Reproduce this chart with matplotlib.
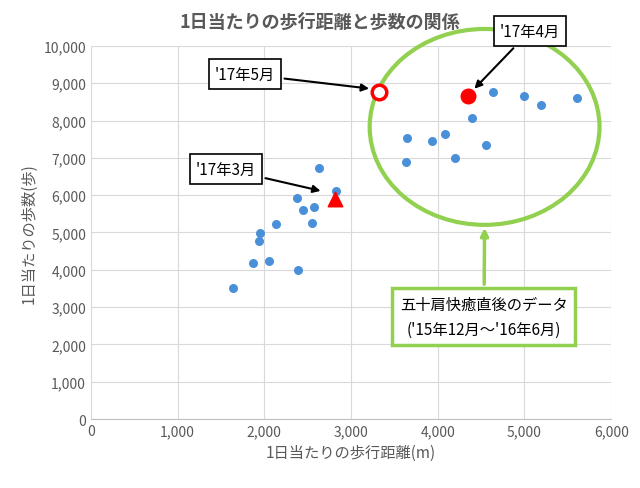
import matplotlib.pyplot as plt
from matplotlib.patches import Ellipse
from matplotlib.ticker import FuncFormatter

plt.rcParams['font.family'] = ['Noto Sans CJK JP', 'DejaVu Sans']

# 過去データ (m, 歩)
dist = [1640, 1870, 2050, 1940, 1950, 2130, 2390, 2380, 2450, 2570, 2550, 2630, 2830,
        3650, 3630, 3930, 4080, 4200, 4560, 4390, 4640, 5000, 5190, 5600]
steps = [3510, 4180, 4240, 4770, 4990, 5230, 3990, 5920, 5600, 5680, 5250, 6730, 6110,
         7530, 6890, 7450, 7640, 7000, 7350, 8070, 8770, 8660, 8420, 8610]
mar17 = (2820, 5900)
apr17 = (4350, 8660)
may17 = (3320, 8770)

fig = plt.figure(figsize=(6.4, 4.89), dpi=100)
ax = fig.add_axes([0.142, 0.141, 0.813, 0.763])
ax.scatter(dist, steps, s=30, color='#4a90d9', zorder=3)
ax.scatter(*mar17, marker='^', s=110, color='red', zorder=4)
ax.scatter(*apr17, s=110, color='red', zorder=4)
ax.scatter(*may17, s=110, facecolor='white', edgecolor='red', linewidth=2.5, zorder=4)

ax.set_xlim(0, 6000)
ax.set_ylim(0, 10000)
ax.set_xticks(range(0, 6001, 1000))
ax.set_yticks(range(0, 10001, 1000))
fmt = FuncFormatter(lambda v, p: f'{int(v):,}')
ax.xaxis.set_major_formatter(fmt)
ax.yaxis.set_major_formatter(fmt)
ax.grid(color='#d9d9d9', linewidth=0.8)
ax.set_axisbelow(True)
for s in ['top', 'right', 'left']:
    ax.spines[s].set_visible(False)
ax.spines['bottom'].set_color('#bfbfbf')
ax.tick_params(length=0, colors='#595959', labelsize=10)
ax.set_xlabel('1日当たりの歩行距離(m)', color='#595959', fontsize=11)
ax.set_ylabel('1日当たりの歩数(歩)', color='#595959', fontsize=11)
fig.text(0.5, 0.955, '1日当たりの歩行距離と歩数の関係', ha='center', va='center',
         fontsize=13, fontweight='bold', color='#595959')

ax.add_patch(Ellipse((4540, 7830), 2650, 5250, fill=False, edgecolor='#92d050',
                     linewidth=3, clip_on=False, zorder=2))

box = dict(boxstyle='square,pad=0.4', facecolor='white', edgecolor='black', linewidth=1.2)
arr = dict(arrowstyle='-|>', color='black', linewidth=1.5)
ax.annotate("'17年5月", xy=(3240, 8850), xytext=(1776, 9250), ha='center', va='center',
            fontsize=11, bbox=box, arrowprops=arr, annotation_clip=False)
ax.annotate("'17年3月", xy=(2680, 6100), xytext=(1557, 6700), ha='center', va='center',
            fontsize=11, bbox=box, arrowprops=arr, annotation_clip=False)
ax.annotate("'17年4月", xy=(4400, 8800), xytext=(5063, 10400), ha='center', va='center',
            fontsize=11, bbox=box, arrowprops=arr, annotation_clip=False)
ax.annotate("五十肩快癒直後のデータ\n('15年12月～'16年6月)", xy=(4540, 5200), xytext=(4533, 2740),
            ha='center', va='center', fontsize=11, linespacing=1.6,
            bbox=dict(boxstyle='square,pad=0.5', facecolor='white', edgecolor='#92d050', linewidth=2.5),
            arrowprops=dict(arrowstyle='-|>', color='#92d050', linewidth=2.5), annotation_clip=False)

fig.savefig('out.png')
